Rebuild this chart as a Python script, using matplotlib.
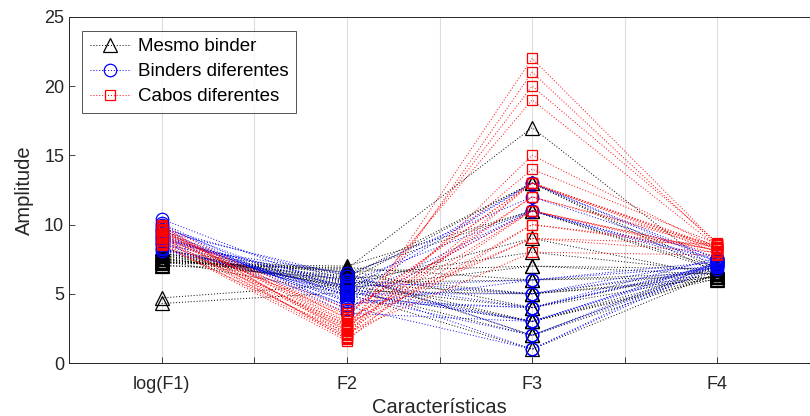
import matplotlib
matplotlib.use("Agg")
import matplotlib.pyplot as plt
from matplotlib.lines import Line2D

plt.rcParams['font.family'] = ['Liberation Sans', 'DejaVu Sans']

features = ["log(F1)", "F2", "F3", "F4"]

# Mesmo binder (black triangles)
same_f1 = [7.3, 7.5, 7.8, 8.1, 7.2, 7.6, 7.9, 7.4, 8.2, 7.0, 7.7, 7.5, 8.0, 7.3, 7.8, 7.1, 7.6, 8.3, 7.9, 7.4, 4.7, 4.3]
same_f2 = [6.8, 6.2, 5.9, 6.5, 7.0, 5.6, 6.0, 6.6, 5.4, 6.9, 5.8, 6.3, 5.2, 6.7, 5.5, 6.1, 5.7, 5.3, 6.4, 5.0, 5.7, 5.1]
same_f3 = [17, 13, 13, 11, 11, 9, 8, 7, 7, 6, 6, 5, 5, 4, 4, 3, 3, 2, 2, 1, 5, 3]
same_f4 = [6.6, 6.8, 6.5, 6.9, 6.7, 6.3, 6.6, 6.4, 6.8, 6.2, 6.5, 6.0, 6.7, 6.3, 6.9, 6.1, 6.6, 6.4, 7.0, 6.5, 6.2, 6.3]

# Binders diferentes (blue circles)
binder_f1 = [10.4, 9.8, 9.5, 9.2, 8.9, 10.1, 9.0, 8.6, 9.7, 8.3, 9.4, 8.8, 10.0, 8.1, 9.1, 8.5, 9.6, 8.2, 9.3, 8.7]
binder_f2 = [5.2, 4.8, 6.3, 4.5, 5.8, 3.9, 5.5, 4.2, 6.0, 5.0, 4.6, 5.9, 3.6, 5.4, 4.9, 6.5, 4.1, 5.6, 4.4, 5.1]
binder_f3 = [13, 13, 12, 11, 11, 11, 6, 6, 5, 5, 4, 4, 3, 3, 2, 2, 1, 1, 4, 3]
binder_f4 = [7.5, 7.3, 7.6, 7.4, 7.2, 7.5, 7.0, 7.3, 6.9, 7.4, 7.1, 7.6, 7.0, 7.3, 6.8, 7.2, 7.1, 7.4, 7.0, 7.2]

# Cabos diferentes (red squares)
cable_f1 = [9.9, 9.6, 9.3, 10.0, 9.1, 8.8, 9.7, 9.4, 8.6, 9.2, 9.8, 8.9, 9.5, 9.0, 8.7, 9.6, 9.3, 8.5, 9.1, 9.7]
cable_f2 = [2.1, 1.7, 2.5, 3.2, 1.9, 2.8, 2.3, 3.6, 1.6, 2.6, 3.0, 2.0, 3.9, 2.4, 1.8, 2.9, 3.3, 2.2, 3.5, 2.7]
cable_f3 = [22, 21, 20, 19, 15, 14, 13, 13, 13, 12, 12, 11, 11, 10, 10, 9, 9, 8, 13, 11]
cable_f4 = [8.6, 8.5, 8.7, 8.4, 8.3, 8.6, 8.2, 8.4, 8.0, 8.5, 8.3, 7.9, 8.1, 8.4, 8.2, 8.0, 8.6, 7.8, 8.3, 8.1]

groups = [
    ("Mesmo binder", (0, 0, 0), "^", 9.5, [same_f1, same_f2, same_f3, same_f4]),
    ("Binders diferentes", (0, 0, 1), "o", 9.0, [binder_f1, binder_f2, binder_f3, binder_f4]),
    ("Cabos diferentes", (1, 0, 0), "s", 7.5, [cable_f1, cable_f2, cable_f3, cable_f4]),
]

axis_col = "#262626"
fig = plt.figure(figsize=(8.1, 4.16), dpi=100)
ax = fig.add_axes([0.0852, 0.1274, 0.9148, 0.832])

xs = list(range(1, len(features) + 1))
dotted = (0, (1, 2))
handles = []
for name, col, mk, ms, cols in groups:
    for i in range(len(cols[0])):
        ys = [c[i] for c in cols]
        ax.plot(xs, ys, linestyle=dotted, linewidth=0.7, color=col,
                marker=mk, markersize=ms, markerfacecolor="none",
                markeredgecolor=col, markeredgewidth=0.9)
    handles.append(Line2D([], [], linestyle=dotted, linewidth=0.7, color=col,
                          marker=mk, markersize=ms, markerfacecolor="none",
                          markeredgecolor=col, markeredgewidth=0.9, label=name))

ax.set_xlim(0.5, 4.463)
ax.set_ylim(0, 25)
ax.set_xticks(xs)
ax.set_xticklabels(features)
ax.set_xticks([0.5, 1.5, 2.5, 3.5, 4.5], minor=True)
ax.set_yticks([0, 5, 10, 15, 20, 25])
ax.grid(True, axis="x", which="both", color="#dcdcdc", linewidth=0.8)
ax.set_axisbelow(True)
ax.tick_params(axis="both", which="both", direction="in", length=4,
               width=0.6, colors=axis_col, labelsize=13)
ax.tick_params(axis="x", which="major", pad=9)
for s in ax.spines.values():
    s.set_color(axis_col)
    s.set_linewidth(0.7)
ax.spines["right"].set_visible(False)

ax.set_xlabel("Características", fontsize=14.5, color=axis_col, labelpad=4)
ax.set_ylabel("Amplitude", fontsize=14.5, color=axis_col, labelpad=7)

leg = ax.legend(handles=handles, loc="upper left", bbox_to_anchor=(0.018, 0.96),
                fontsize=13.5, frameon=True, fancybox=False, handlelength=2.2,
                handletextpad=0.35, borderpad=0.4, labelspacing=0.42,
                borderaxespad=0, numpoints=1)
leg.get_frame().set_edgecolor(axis_col)
leg.get_frame().set_linewidth(0.7)

fig.savefig("out.png", dpi=100)
